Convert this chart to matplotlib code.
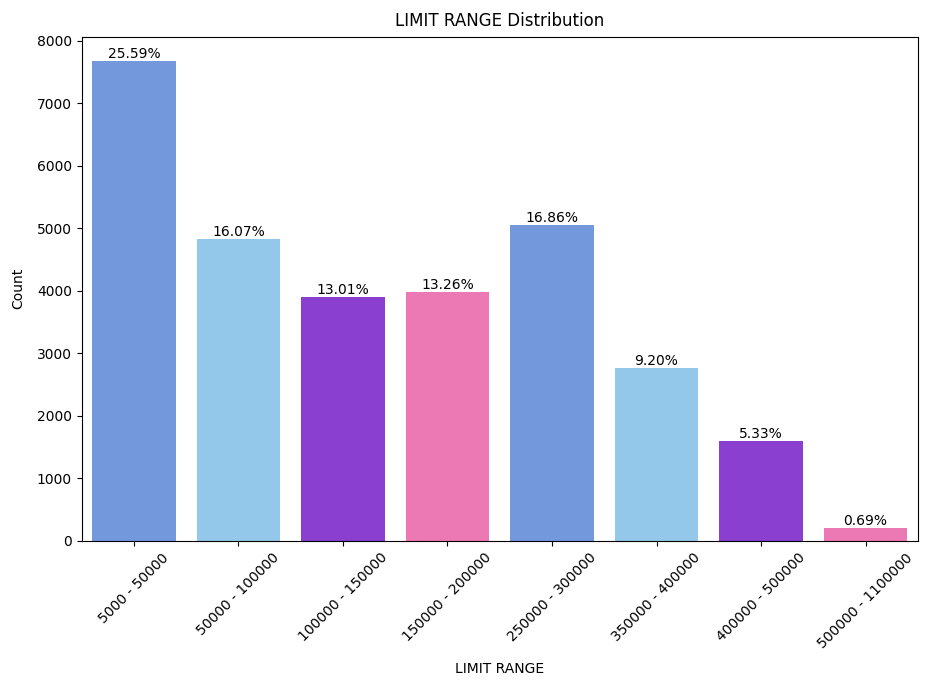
import matplotlib
matplotlib.use("Agg")
import matplotlib.pyplot as plt

categories = ["5000 - 50000", "50000 - 100000", "100000 - 150000", "150000 - 200000",
              "250000 - 300000", "350000 - 400000", "400000 - 500000", "500000 - 1100000"]
counts = [7677, 4821, 3903, 3978, 5058, 2760, 1599, 207]
palette = ["#7399DC", "#94C8EA", "#8A3FD0", "#EC78B4"]

fig = plt.figure(figsize=(9.28, 6.82), dpi=100)
ax = fig.add_axes([0.088, 0.207, 0.901, 0.739])

total = sum(counts)
x = list(range(len(categories)))
colors = [palette[i % len(palette)] for i in x]
bars = ax.bar(x, counts, width=0.8, color=colors)

for bar, c in zip(bars, counts):
    ax.text(bar.get_x() + bar.get_width() / 2, c, f"{c / total * 100:.2f}%",
            ha="center", va="bottom", fontsize=10)

ax.set_xticks(x)
ax.set_xticklabels(categories, rotation=45, fontsize=10)
ax.tick_params(axis="y", labelsize=10)
ax.set_xlim(-0.5, len(categories) - 0.5)
ax.set_xlabel("LIMIT RANGE", fontsize=10, labelpad=8)
ax.set_ylabel("Count", fontsize=10, labelpad=8)
ax.set_title("LIMIT RANGE Distribution", fontsize=12, pad=8)

fig.savefig("out.png", dpi=100)
